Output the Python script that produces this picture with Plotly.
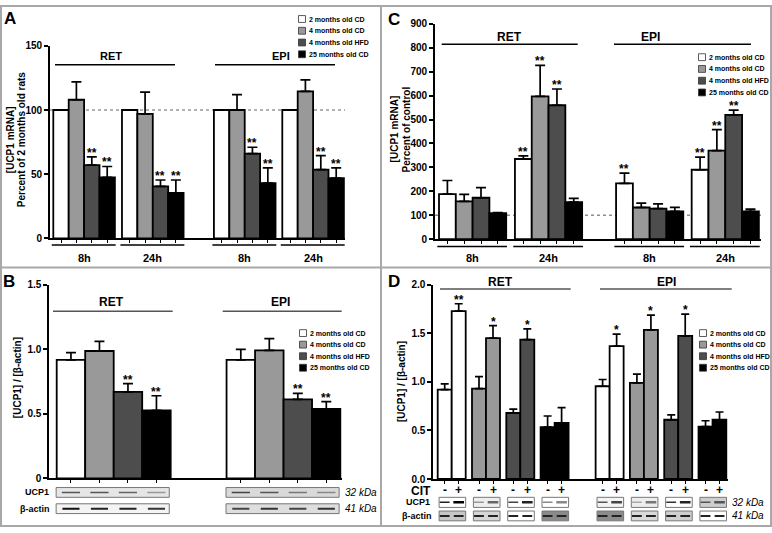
import plotly.graph_objects as go

W, H = 772, 533
FONT = "Liberation Sans, Arial, Helvetica, sans-serif"
LEGFONT = "Liberation Sans, Arial, sans-serif"

# ---------------- data ----------------
SERIES = ["2 months old CD", "4 months old CD", "4 months old HFD", "25 months old CD"]
COLORS = ["#ffffff", "#999999", "#4d4d4d", "#000000"]
TISSUES = ["RET", "EPI"]
TIMES = ["8h", "24h", "8h", "24h"]
REF_LINE = 100

# Panel A: [UCP1 mRNA] % of 2 months old rats; groups: RET 8h, RET 24h, EPI 8h, EPI 24h
A_MEAN = [[100, 100, 100, 100],
          [108, 97, 100, 114.5],
          [57, 40.5, 66, 53.5],
          [47.5, 35.5, 43, 47]]
A_SEM = [[0, 0, 0, 0],
         [14, 17, 12, 9],
         [6.5, 5, 5, 11],
         [8.5, 10, 12, 8]]
A_SIG = [["", "", "", ""],
         ["", "", "", ""],
         ["**", "**", "**", "**"],
         ["**", "**", "**", "**"]]

# Panel C: [UCP1 mRNA] percent of control
C_MEAN = [[188, 335, 233, 290],
          [158, 597, 132, 370],
          [173, 560, 127, 520],
          [108, 155, 116, 116]]
C_SEM = [[57, 13, 43, 53],
         [29, 130, 18, 88],
         [42, 68, 20, 20],
         [3, 15, 17, 9]]
C_SIG = [["", "**", "**", "**"],
         ["", "**", "", "**"],
         ["", "**", "", "**"],
         ["", "", "", ""]]

# Panel B: [UCP1]/[beta-actin]; groups RET, EPI
B_MEAN = [[0.918, 0.918],
          [0.987, 0.992],
          [0.670, 0.612],
          [0.526, 0.539]]
B_SEM = [[0.056, 0.081],
         [0.075, 0.091],
         [0.064, 0.046],
         [0.114, 0.055]]
B_SIG = [["", ""], ["", ""], ["**", "**"], ["**", "**"]]

# Panel D: [UCP1]/[beta-actin], CIT - / +, groups RET, EPI
D_MEAN_MINUS = [[0.92, 0.955], [0.93, 0.99], [0.68, 0.61], [0.534, 0.54]]
D_SEM_MINUS = [[0.06, 0.07], [0.125, 0.09], [0.04, 0.05], [0.115, 0.06]]
D_MEAN_PLUS = [[1.728, 1.368], [1.45, 1.536], [1.435, 1.475], [0.578, 0.61]]
D_SEM_PLUS = [[0.077, 0.124], [0.13, 0.151], [0.111, 0.222], [0.158, 0.08]]
D_SIG_PLUS = [["**", "*"], ["*", "*"], ["*", "*"], ["", ""]]
CIT_LABELS = ["-", "+"]

# ---------------- layout helpers ----------------
def fx(px):
    return px / W


def fy(py):
    return 1 - py / H


fig = go.Figure()


def setup_axes(idx, xl, xr, first, bw, ytop, ybot, yrange, yticks, yticktext, xticks, tickfs=10):
    sx = "" if idx == 1 else str(idx)
    fig.layout["xaxis" + sx] = dict(
        domain=[fx(xl), fx(xr)], range=[(xl - first) / bw, (xr - first) / bw],
        anchor="y" + sx, showgrid=False, zeroline=False, showline=True,
        linecolor="black", linewidth=1.8, ticks="outside", ticklen=3, tickwidth=1.2,
        tickcolor="black", tickvals=xticks, showticklabels=False, fixedrange=True)
    fig.layout["yaxis" + sx] = dict(
        domain=[fy(ybot), fy(ytop)], range=yrange, anchor="x" + sx,
        showgrid=False, zeroline=False, showline=True, linecolor="black",
        linewidth=1.8, ticks="outside", ticklen=4, tickwidth=1.6, tickcolor="black",
        tickvals=yticks, ticktext=yticktext,
        tickfont=dict(family=FONT, size=tickfs, color="black", weight="bold"),
        fixedrange=True)


def add_bar(xa, ya, xs, ys, sems, color, cap):
    err = None
    if any(sems):
        err = dict(type="data", symmetric=False, array=sems, arrayminus=[0] * len(sems),
                   color="black", thickness=1.7, width=cap)
    fig.add_trace(go.Bar(x=xs, y=ys, width=1, marker=dict(color=color, line=dict(color="black", width=1.8)),
                         error_y=err, xaxis=xa, yaxis=ya, showlegend=False, hoverinfo="skip"))


def add_sig(xa, ya, xs, ys, sems, sigs, size=12, shift=-5):
    for x, y, e, s in zip(xs, ys, sems, sigs):
        if s:
            fig.add_annotation(x=x, y=y + e, xref=xa, yref=ya, text=s, showarrow=False,
                               yanchor="bottom", yshift=shift,
                               font=dict(family=FONT, size=size, color="black", weight="bold"))


def text(x, y, t, size=11, xanchor="center", italic=False, bold=True, angle=0, family=FONT, xref="paper"):
    fig.add_annotation(x=x if xref != "paper" else fx(x), y=fy(y), xref=xref, yref="paper", text=t,
                       showarrow=False, xanchor=xanchor, yanchor="middle", textangle=angle,
                       font=dict(family=family, size=size, color="black",
                                 weight="bold" if bold else "normal",
                                 style="italic" if italic else "normal"))


def hline(x0, x1, y, color="black", width=1.5, xref="paper"):
    fig.add_shape(type="line", xref=xref, yref="paper",
                  x0=fx(x0) if xref == "paper" else x0, x1=fx(x1) if xref == "paper" else x1,
                  y0=fy(y), y1=fy(y), line=dict(color=color, width=width))


def legend(xbox, y0, step):
    for s, name in enumerate(SERIES):
        yc = y0 + s * step
        fig.add_shape(type="rect", xref="paper", yref="paper", x0=fx(xbox - 3.5), x1=fx(xbox + 3.5),
                      y0=fy(yc + 3.5), y1=fy(yc - 3.5), fillcolor=COLORS[s],
                      line=dict(color="#333", width=0.8))
        fig.add_annotation(x=fx(xbox + 5), y=fy(yc), xref="paper", yref="paper", text=name,
                           showarrow=False, xanchor="left", yanchor="middle",
                           font=dict(family=LEGFONT, size=7, color="black", weight="bold"))


def blot_box(xref, x0, x1, ytop, ybot, fill):
    fig.add_shape(type="rect", xref=xref, yref="paper", x0=x0, x1=x1, y0=fy(ybot), y1=fy(ytop),
                  fillcolor=fill, line=dict(color="#777", width=1), layer="above")


def band(xref, xc, y, color, width=2, half=0.3):
    fig.add_shape(type="line", xref=xref, yref="paper", x0=xc - half, x1=xc + half, y0=fy(y), y1=fy(y),
                  line=dict(color=color, width=width), layer="above")


# ---------------- Panel A ----------------
A_GS = [0, 4.46, 10.43, 14.87]
A_X = [[A_GS[g] + s + 0.5 for g in range(4)] for s in range(4)]
setup_axes(1, 50, 345, 53.3, 15.4, 41.7, 238.3, [0, 150], [0, 50, 100, 150], ["0", "50", "100", "150"],
           sorted(x for row in A_X for x in row))
fig.add_shape(type="line", xref="x domain", yref="y", x0=0, x1=1, y0=REF_LINE, y1=REF_LINE,
              line=dict(color="#666", width=1, dash="dot"), layer="below")
for s in range(4):
    add_bar("x", "y", A_X[s], A_MEAN[s], A_SEM[s], COLORS[s], 5)
for s in range(4):
    add_sig("x", "y", A_X[s], A_MEAN[s], A_SEM[s], A_SIG[s])
for g, t in enumerate(TIMES):
    fig.add_shape(type="line", xref="x", yref="paper", x0=A_GS[g] - 0.1, x1=A_GS[g] + 4.05,
                  y0=fy(245), y1=fy(245), line=dict(color="black", width=1.5))
    text(A_GS[g] + 2, 258, t, size=11, xref="x")
text(111, 52, TISSUES[0], size=11)
hline(55, 175, 61)
text(281, 52, TISSUES[1], size=11)
hline(215, 335, 61)
legend(302, 14.3, 12)
text(10, 138, "[UCP1 mRNA]", size=10, angle=-90)
text(21, 138, "Percent of 2 months old rats", size=10, angle=-90)
text(9.5, 14, "A", size=17)

# ---------------- Panel C ----------------
C_GS = [0, 4.52, 10.54, 15.04]
C_X = [[C_GS[g] + s + 0.5 for g in range(4)] for s in range(4)]
setup_axes(2, 435, 761, 439, 16.8, 19.4, 239, [0, 900], list(range(0, 901, 100)),
           [str(v) for v in range(0, 901, 100)], sorted(x for row in C_X for x in row))
fig.add_shape(type="line", xref="x2 domain", yref="y2", x0=0, x1=1, y0=REF_LINE, y1=REF_LINE,
              line=dict(color="#555", width=1, dash="dot"), layer="below")
for s in range(4):
    add_bar("x2", "y2", C_X[s], C_MEAN[s], C_SEM[s], COLORS[s], 5)
for s in range(4):
    add_sig("x2", "y2", C_X[s], C_MEAN[s], C_SEM[s], C_SIG[s])
for g, t in enumerate(TIMES):
    fig.add_shape(type="line", xref="x2", yref="paper", x0=C_GS[g] - 0.1, x1=C_GS[g] + 4.05,
                  y0=fy(246.5), y1=fy(246.5), line=dict(color="black", width=1.5))
    text(C_GS[g] + 2, 258, t, size=11, xref="x2")
text(509, 33, TISSUES[0], size=12)
hline(441.7, 577.7, 40)
text(650, 33, TISSUES[1], size=12)
hline(614, 751, 40)
legend(702, 53.3, 12)
text(394, 127, "[UCP1 mRNA]", size=10, angle=-90)
text(406, 127, "Percent of control", size=10, angle=-90)
text(394, 14.7, "C", size=17)

# ---------------- Panel B ----------------
B_GS = [0, 5.96]
B_X = [[B_GS[t] + s + 0.5 for t in range(2)] for s in range(4)]
setup_axes(3, 49.3, 341.5, 56.7, 28.5, 285.7, 483.3, [0, 1.5], [0, 0.5, 1.0, 1.5], ["0", "0.5", "1.0", "1.5"],
           sorted(x for row in B_X for x in row))
for s in range(4):
    add_bar("x3", "y3", B_X[s], B_MEAN[s], B_SEM[s], COLORS[s], 5)
for s in range(4):
    add_sig("x3", "y3", B_X[s], B_MEAN[s], B_SEM[s], B_SIG[s])
text(111.7, 303, TISSUES[0], size=12)
hline(53, 172.7, 312.7, color="#555")
text(280, 303, TISSUES[1], size=12)
hline(222.7, 341.7, 312.7, color="#555")
legend(303, 335, 11.8)
text(17, 381, "[UCP1] / [β-actin]", size=10, angle=-90)
text(8.5, 282.5, "B", size=17)
# western blot strips
B_UCP1_FILL = ["#e6e6e6", "#d9d9d9"]
B_ACT_FILL = ["#f4f4f4", "#dedede"]
B_UCP1_BAND = [["#555", "#555", "#666", "#999"], ["#444", "#555", "#777", "#888"]]
B_ACT_BAND = [["#111", "#222", "#222", "#333"], ["#444", "#333", "#444", "#333"]]
for t in range(2):
    blot_box("x3", B_GS[t] - 0.02, B_GS[t] + 3.95, 492.7, 502.7, B_UCP1_FILL[t])
    blot_box("x3", B_GS[t] - 0.02, B_GS[t] + 3.95, 509.3, 519.3, B_ACT_FILL[t])
    for s in range(4):
        band("x3", B_X[s][t], 497.7, B_UCP1_BAND[t][s], 1.5, 0.32)
        band("x3", B_X[s][t], 514.3, B_ACT_BAND[t][s], 2, 0.3)
text(51, 497.7, "UCP1", size=9, xanchor="right")
text(52, 514.3, "β-actin", size=9, xanchor="right")
text(343, 497.7, "32 kDa", size=10, xanchor="left", italic=True, bold=False)
text(343, 514.3, "41 kDa", size=10, xanchor="left", italic=True, bold=False)

# ---------------- Panel D ----------------
D_PAIR = 2.45
D_EPI = 11.28
D_PS = [[t * D_EPI + s * D_PAIR for t in range(2)] for s in range(4)]
D_XM = [[p + 0.5 for p in row] for row in D_PS]
D_XP = [[p + 1.5 for p in row] for row in D_PS]
setup_axes(4, 433.3, 727.5, 437.7, 14, 285.7, 484, [0, 2.0], [0, 0.5, 1.0, 1.5, 2.0],
           ["0.0", "0.5", "1.0", "1.5", "2.0"], sorted(x for row in D_XM + D_XP for x in row))
for s in range(4):
    add_bar("x4", "y4", D_XM[s], D_MEAN_MINUS[s], D_SEM_MINUS[s], COLORS[s], 4)
    add_bar("x4", "y4", D_XP[s], D_MEAN_PLUS[s], D_SEM_PLUS[s], COLORS[s], 4)
for s in range(4):
    add_sig("x4", "y4", D_XP[s], D_MEAN_PLUS[s], D_SEM_PLUS[s], D_SIG_PLUS[s])
text(500.7, 283.3, TISSUES[0], size=12)
hline(440, 570.7, 290, color="#555")
text(666.7, 283.3, TISSUES[1], size=12)
hline(600, 731.7, 290, color="#555")
legend(703, 335, 11.8)
text(401, 384, "[UCP1] / [β-actin]", size=10, angle=-90)
text(394, 282.5, "D", size=17)
text(433, 496, "CIT", size=12, xanchor="right")
for s in range(4):
    for t in range(2):
        text(D_XM[s][t], 495.5, CIT_LABELS[0], size=12, xref="x4")
        text(D_XP[s][t], 495.5, CIT_LABELS[1], size=12, xref="x4")
D_UCP1_FILL = [["#ffffff", "#f4f4f4"], ["#eeeeee", "#eeeeee"], ["#ffffff", "#ffffff"], ["#ffffff", "#cdcdcd"]]
D_ACT_FILL = [["#c6c6c6", "#8c8c8c"], ["#d6d6d6", "#d9d9d9"], ["#ffffff", "#cfcfcf"], ["#8a8a8a", "#ffffff"]]
D_UCP1_BAND = [[("#222", "#000"), ("#555", "#444")], [("#999", "#666"), ("#aaa", "#777")],
               [("#444", "#222"), ("#333", "#222")], [("#888", "#888"), ("#555", "#555")]]
for s in range(4):
    for t in range(2):
        p = D_PS[s][t]
        blot_box("x4", p + 0.1, p + 2.0, 502.7, 513, D_UCP1_FILL[s][t])
        blot_box("x4", p + 0.1, p + 2.0, 516.7, 526.7, D_ACT_FILL[s][t])
        band("x4", D_XM[s][t], 507.8, D_UCP1_BAND[s][t][0], 1.6, 0.35)
        band("x4", D_XP[s][t], 507.8, D_UCP1_BAND[s][t][1], 2.4, 0.38)
        band("x4", D_XM[s][t], 521.7, "#222", 2, 0.35)
        band("x4", D_XP[s][t], 521.7, "#222", 2, 0.35)
text(432, 507.8, "UCP1", size=9, xanchor="right")
text(434, 521.7, "β-actin", size=9, xanchor="right")
text(730, 507.8, "32 kDa", size=10, xanchor="left", italic=True, bold=False)
text(730, 521.7, "41 kDa", size=10, xanchor="left", italic=True, bold=False)

# ---------------- frame ----------------
FRAME = "#a8a8a8"
fig.add_shape(type="rect", xref="paper", yref="paper", x0=fx(1), x1=fx(771), y0=fy(532), y1=fy(1),
              line=dict(color=FRAME, width=2))
fig.add_shape(type="line", xref="paper", yref="paper", x0=fx(381), x1=fx(381), y0=0, y1=1,
              line=dict(color=FRAME, width=2))
fig.add_shape(type="line", xref="paper", yref="paper", x0=0, x1=1, y0=fy(268), y1=fy(268),
              line=dict(color=FRAME, width=2))

fig.update_layout(width=W, height=H, margin=dict(l=0, r=0, t=0, b=0),
                  paper_bgcolor="white", plot_bgcolor="white", barmode="overlay",
                  showlegend=False, font=dict(family=FONT, color="black"))

fig.write_html("out.html", config={"displayModeBar": False},
               post_script="document.body.style.margin='0';document.body.style.overflow='hidden';")
